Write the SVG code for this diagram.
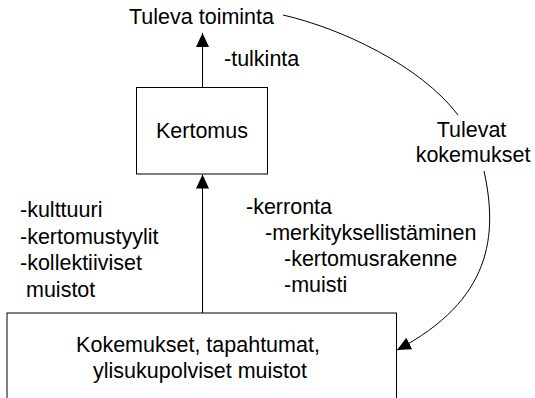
<svg xmlns="http://www.w3.org/2000/svg" width="535" height="398" viewBox="0 0 535 398">
<style>
  text { font-family: "Liberation Sans", Arial, sans-serif; font-size: 21.5px; fill: #000; }
  .box { fill: #fff; stroke: #000; stroke-width: 1; }
  .ln { fill: none; stroke: #000; stroke-width: 1; }
  .mid { text-anchor: middle; }
</style>
<defs>
  <marker id="ah" markerUnits="userSpaceOnUse" markerWidth="16" markerHeight="14" refX="14" refY="6.5" orient="auto">
    <path d="M0,0 L14,6.5 L0,13 Z" fill="#000"/>
  </marker>
</defs>
<rect width="535" height="398" fill="#fff"/>
<g id="connectors">
  <line class="ln" x1="202.5" y1="87" x2="202.5" y2="33" marker-end="url(#ah)"/>
  <line class="ln" x1="202.5" y1="313" x2="202.5" y2="174.5" marker-end="url(#ah)"/>
  <path class="ln" d="M283,15 C340,28 420,65 458,115"/>
  <path class="ln" d="M484,171 C498,235 492,300 397,350" marker-end="url(#ah)"/>
</g>
<g id="tuleva-toiminta">
  <text x="129" y="24">Tuleva toiminta</text>
</g>
<g id="kertomus">
  <rect class="box" x="136.5" y="87.5" width="131" height="86.5"/>
  <text class="mid" x="202" y="137.5">Kertomus</text>
</g>
<g id="kokemukset">
  <rect class="box" x="7" y="313" width="389.5" height="100"/>
  <text class="mid" x="198" y="352">Kokemukset, tapahtumat,</text>
  <text class="mid" x="200" y="378">ylisukupolviset muistot</text>
</g>
<g id="labels">
  <text x="224" y="66">-tulkinta</text>
  <text class="mid" x="471.5" y="137">Tulevat</text>
  <text class="mid" x="473" y="162">kokemukset</text>
  <text x="20" y="217">-kulttuuri</text>
  <text x="20" y="243.5">-kertomustyylit</text>
  <text x="20" y="270">-kollektiiviset</text>
  <text x="26" y="296.5">muistot</text>
  <text x="246" y="214">-kerronta</text>
  <text x="265" y="240">-merkityksellistäminen</text>
  <text x="284" y="266">-kertomusrakenne</text>
  <text x="284" y="292">-muisti</text>
</g>
</svg>
